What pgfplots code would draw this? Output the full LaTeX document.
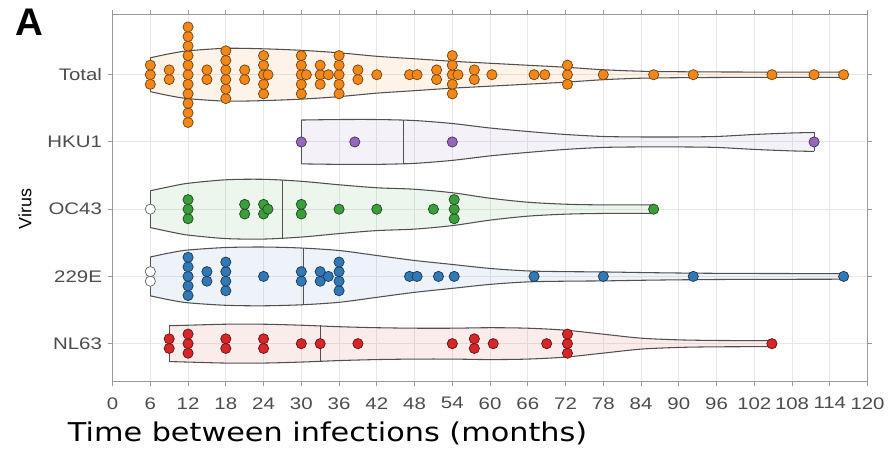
\documentclass[border=0pt]{standalone}
\usepackage{fontspec}
\setmainfont{Liberation Sans}
\newfontfamily\tickfont[FakeStretch=1.22]{Liberation Sans}
\newfontfamily\labfont[FakeStretch=1.17]{DejaVu Sans}
\usepackage{pgfplots}
\usepackage{pgfplotstable}
\usepgfplotslibrary{fillbetween}
\pgfplotsset{compat=1.18}

\definecolor{cTot}{RGB}{242,135,26}
\definecolor{cHKU}{RGB}{148,103,189}
\definecolor{cOC}{RGB}{60,157,60}
\definecolor{cE}{RGB}{50,120,180}
\definecolor{cNL}{RGB}{214,39,40}
\definecolor{vline}{RGB}{80,80,80}

% violin half widths (m = months, h = half width in px)
\pgfplotstableread{
m h
6 17
9 21
12 24
18 26.5
24 26
30 24.5
36 22
42 18.5
48 16
54 13.5
60 11.5
66 9.5
72 7.5
78 5
84 3.5
90 3
100 2.7
116 2.7
}\vTotal
\pgfplotstableread{
m h
30 22
36 22.5
42 22.5
48 21.5
54 18.5
60 14
66 10.5
72 7.5
78 5.5
84 5
90 5
96 5.5
102 7.5
108 9
111.5 9.5
}\vHKU
\pgfplotstableread{
m h
6 18.5
9 22.5
12 26
18 29.5
24 30
30 28
36 24.5
42 21.5
48 20
54 16.5
60 11
66 7
72 5
78 4.3
86 4.3
}\vOC
\pgfplotstableread{
m h
6 19.5
9 23.5
12 26.5
18 29
24 29.5
30 28.5
36 26
42 21
48 16
54 12
60 8
66 5.5
72 4.8
78 4.5
85 3.8
92 3.3
100 3
116 2.8
}\vE
\pgfplotstableread{
m h
9 18
12 18.5
18 19.5
24 19.5
30 18.5
36 17
42 16
48 15.5
54 15.5
60 16
66 15.5
72 13.5
78 9.5
84 5.5
90 3.8
96 3.2
105 3
}\vNL

% dots: m = months, k = stack index
\pgfplotstableread{
m k
6 -1
6 0
6 1
9 -0.5
9 0.5
12 -5
12 -4
12 -3
12 -2
12 -1
12 0
12 1
12 2
12 3
12 4
12 5
15 -0.5
15 0.5
18 -2.5
18 -1.5
18 -0.5
18 0.5
18 1.5
18 2.5
21 -0.5
21 0.5
24 -2
24 -1
24 0
24 1
24 2
24.7 0
30 -2
30 -1
30 0
30 1
30 2
30.8 0
33 -1
33 0
33 1
34.3 0
36 -2
36 -1
36 0
36 1
36 2
39 -0.5
39 0.5
42 0
47.2 0
48.4 0
51.5 -0.5
51.5 0.5
54 -2
54 -1
54 0
54 1
54 2
54.9 0
57.5 -0.5
57.5 0.5
60.3 0
67 0
68.7 0
72.3 -1
72.3 0
72.3 1
78 0
86 0
92.3 0
104.8 0
111.5 0
116.2 0
}\dTotal
\pgfplotstableread{
m k
30 0
38.5 0
54 0
111.5 0
}\dHKU
\pgfplotstableread{
m k
12 -1
12 0
12 1
21 -0.5
21 0.5
24 -0.5
24 0.5
24.7 0
30 -0.5
30 0.5
36 0
42 0
51 0
54.3 -1
54.3 0
54.3 1
86 0
}\dOC
\pgfplotstableread{
m k
12 -2
12 -1
12 0
12 1
12 2
15 -0.5
15 0.5
18 -1.5
18 -0.5
18 0.5
18 1.5
24 0
30 -0.5
30 0.5
33 -0.5
33 0.5
34.3 0
36 -1.5
36 -0.5
36 0.5
36 1.5
47.2 0
48.4 0
51.8 0
54.3 0
67 0
78 0
92.3 0
116.2 0
}\dE
\pgfplotstableread{
m k
9 -0.5
9 0.5
12 -1
12 0
12 1
18 -0.5
18 0.5
24 -0.5
24 0.5
30 0
33 0
39 0
54 0
57.5 -0.5
57.5 0.5
60.5 0
69 0
72.3 -1
72.3 0
72.3 1
104.8 0
}\dNL

\begin{document}
\begin{tikzpicture}
\begin{axis}[
  scale only axis, width=568.5pt, height=276pt,
  xmin=0, xmax=120, ymin=0.437, ymax=5.889,
  xtick={0,6,12,18,24,30,36,42,48,54,60,66,72,78,84,90,96,102,108,114,120},
  ytick={1,2,3,4,5},
  yticklabels={NL63,229E,OC43,HKU1,Total},
  /pgf/number format/assume math mode=true,
  grid=major, grid style={black!9, line width=0.7pt},
  axis line style={black!40, line width=0.7pt},
  tick align=outside, major tick length=3.5pt,
  tick style={black!40, line width=0.7pt},
  xticklabel style={font=\tickfont\fontsize{12.6}{14}\selectfont, text=black!70, yshift=-5pt},
  yticklabel style={font=\tickfont\fontsize{12.6}{14}\selectfont, text=black!70, xshift=-1pt},
  clip=false,
  mark size=3.85pt,
  violin/.style={vline, line width=0.8pt, smooth, tension=0.5},
  cap/.style={vline, line width=0.8pt},
  dots/.style={only marks, mark=*, line width=0.55pt},
]
% Total
\addplot[violin, name path=tU] table[x=m, y expr=5+\thisrow{h}/67.5] {\vTotal};
\addplot[violin, name path=tL] table[x=m, y expr=5-\thisrow{h}/67.5] {\vTotal};
\addplot[fill=cTot, fill opacity=0.1, draw=none] fill between[of=tU and tL];
\addplot[cap] coordinates {(6,4.748) (6,5.252)};
\addplot[cap] coordinates {(116,4.96) (116,5.04)};
\addplot[cap] coordinates {(30,4.637) (30,5.363)};
% HKU1
\addplot[violin, name path=hU] table[x=m, y expr=4+\thisrow{h}/67.5] {\vHKU};
\addplot[violin, name path=hL] table[x=m, y expr=4-\thisrow{h}/67.5] {\vHKU};
\addplot[fill=cHKU, fill opacity=0.09, draw=none] fill between[of=hU and hL];
\addplot[cap] coordinates {(30,3.674) (30,4.326)};
\addplot[cap] coordinates {(111.5,3.859) (111.5,4.141)};
\addplot[cap] coordinates {(46.25,3.677) (46.25,4.323)};
% OC43
\addplot[violin, name path=oU] table[x=m, y expr=3+\thisrow{h}/67.5] {\vOC};
\addplot[violin, name path=oL] table[x=m, y expr=3-\thisrow{h}/67.5] {\vOC};
\addplot[fill=cOC, fill opacity=0.09, draw=none] fill between[of=oU and oL];
\addplot[cap] coordinates {(6,2.726) (6,3.274)};
\addplot[cap] coordinates {(86,2.936) (86,3.064)};
\addplot[cap] coordinates {(27,2.563) (27,3.437)};
% 229E
\addplot[violin, name path=eU] table[x=m, y expr=2+\thisrow{h}/67.5] {\vE};
\addplot[violin, name path=eL] table[x=m, y expr=2-\thisrow{h}/67.5] {\vE};
\addplot[fill=cE, fill opacity=0.09, draw=none] fill between[of=eU and eL];
\addplot[cap] coordinates {(6,1.711) (6,2.289)};
\addplot[cap] coordinates {(116,1.959) (116,2.041)};
\addplot[cap] coordinates {(30.4,1.578) (30.4,2.422)};
% NL63
\addplot[violin, name path=nU] table[x=m, y expr=1+\thisrow{h}/67.5] {\vNL};
\addplot[violin, name path=nL] table[x=m, y expr=1-\thisrow{h}/67.5] {\vNL};
\addplot[fill=cNL, fill opacity=0.09, draw=none] fill between[of=nU and nL];
\addplot[cap] coordinates {(9,0.733) (9,1.267)};
\addplot[cap] coordinates {(105,0.956) (105,1.044)};
\addplot[cap] coordinates {(33,0.724) (33,1.276)};

% dots
\addplot[dots, fill=cTot, draw=cTot!50!black] table[x=m, y expr=5+0.142*\thisrow{k}] {\dTotal};
\addplot[dots, fill=cHKU, draw=cHKU!50!black] table[x=m, y expr=4+0.142*\thisrow{k}] {\dHKU};
\addplot[dots, fill=cOC, draw=cOC!50!black] table[x=m, y expr=3+0.142*\thisrow{k}] {\dOC};
\addplot[dots, fill=white, draw=black!60] coordinates {(6,3)};
\addplot[dots, fill=cE, draw=cE!50!black] table[x=m, y expr=2+0.142*\thisrow{k}] {\dE};
\addplot[dots, fill=white, draw=black!60] coordinates {(6,1.929) (6,2.071)};
\addplot[dots, fill=cNL, draw=cNL!50!black] table[x=m, y expr=1+0.142*\thisrow{k}] {\dNL};

% labels
\node[anchor=base west, inner sep=0, font=\labfont\fontsize{19.5}{22}\selectfont] at (rel axis cs:-0.0594,-0.163) {Time between infections (months)};
\node[rotate=90, inner sep=0, font=\fontsize{13.5}{15}\selectfont] at (rel axis cs:-0.1161,0.470) {Virus};
\node[anchor=base west, inner sep=0, font=\bfseries\fontsize{29}{30}\selectfont] at (rel axis cs:-0.1293,0.943) {A};
\path (rel axis cs:-0.1491,-0.1902) rectangle (rel axis cs:1.0237,1.0408);
\end{axis}
\end{tikzpicture}
\end{document}
